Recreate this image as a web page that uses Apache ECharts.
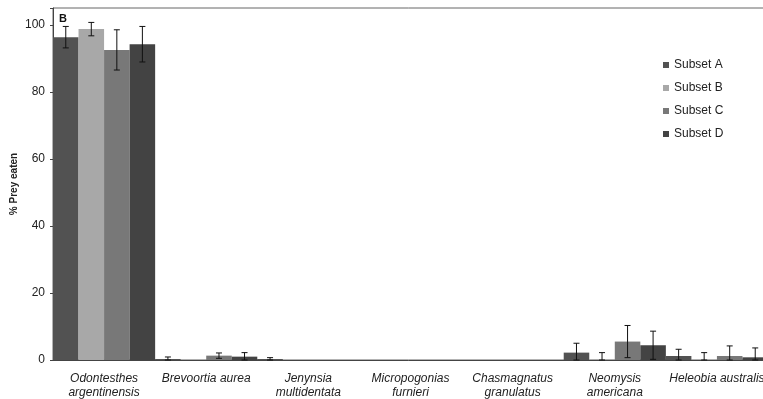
<!DOCTYPE html>
<html><head><meta charset="utf-8">
<script src="https://cdn.jsdelivr.net/npm/echarts@6/dist/echarts.min.js"></script>
<style>html,body{margin:0;padding:0;background:#fff}#c{width:763px;height:399px}</style>
</head><body><div id="c"></div>
<script>
const categories = ['Odontesthes\nargentinensis','Brevoortia aurea','Jenynsia\nmultidentata','Micropogonias\nfurnieri','Chasmagnatus\ngranulatus','Neomysis\namericana','Heleobia australis'];
const subsetNames = ['Subset A','Subset B','Subset C','Subset D'];
const valuesA = [96.3, 0.3, 0.3, 0, 0, 2.2, 1.2];
const valuesB = [98.7, 0.1, 0, 0, 0, 0.2, 0.1];
const valuesC = [92.5, 1.3, 0, 0, 0, 5.5, 1.2];
const valuesD = [94.2, 1.0, 0, 0, 0, 4.4, 0.8];
const errA = [3.2, 0.6, 0.4, 0, 0, 2.8, 2.0];
const errB = [2.0, 0, 0, 0, 0, 2.0, 2.1];
const errC = [6.0, 0.8, 0, 0, 0, 4.8, 3.0];
const errD = [5.3, 1.2, 0, 0, 0, 4.2, 2.8];
const yTicks = [0, 20, 40, 60, 80, 100];

const colors = ['#525252', '#a8a8a8', '#787878', '#434343'];
const values = [valuesA, valuesB, valuesC, valuesD];
const errs = [errA, errB, errC, errD];

const chart = echarts.init(document.getElementById('c'));
const series = [];
values.forEach((v, s) => {
  series.push({
    name: subsetNames[s], type: 'bar', data: v,
    barGap: '0%', barCategoryGap: '0%',
    itemStyle: { color: colors[s] }, silent: true
  });
});
errs.forEach((e, s) => {
  series.push({
    type: 'custom', silent: true, z: 10,
    data: e.map((err, i) => [i, values[s][i], err]),
    renderItem: function (params, api) {
      const err = api.value(2);
      if (!(err > 0)) return null;
      const cat = api.value(0), val = api.value(1);
      const band = api.size([1, 0])[0];
      const off = (s - 1.5) * band / 4;
      const hi = api.coord([cat, val + err]);
      const lo = api.coord([cat, Math.max(0, val - err)]);
      const x = hi[0] + off;
      const cap = 3;
      const st = { stroke: '#111', lineWidth: 1 };
      return { type: 'group', children: [
        { type: 'line', shape: { x1: x, y1: hi[1], x2: x, y2: lo[1] }, style: st },
        { type: 'line', shape: { x1: x - cap, y1: hi[1], x2: x + cap, y2: hi[1] }, style: st },
        { type: 'line', shape: { x1: x - cap, y1: lo[1], x2: x + cap, y2: lo[1] }, style: st }
      ]};
    }
  });
});

chart.setOption({
  animation: false,
  textStyle: { fontFamily: 'Liberation Sans' },
  grid: { left: 53, right: -5, top: 8, bottom: 39, outerBoundsMode: 'none', containLabel: false,
    show: true, borderColor: '#666', borderWidth: 1 },
  legend: {
    data: subsetNames.map((n, i) => ({ name: n, itemStyle: { color: colors[i] } })),
    orient: 'vertical', left: 658, top: 54, itemWidth: 6, itemHeight: 6, itemGap: 11,
    icon: 'rect',
    textStyle: { fontSize: 12, color: '#222', fontFamily: 'Liberation Sans' }
  },
  xAxis: {
    type: 'category', data: categories,
    axisLine: { lineStyle: { color: '#444' } },
    axisTick: { show: false },
    axisLabel: { interval: 0, fontStyle: 'italic', fontSize: 12, color: '#222', lineHeight: 14, margin: 12 }
  },
  yAxis: {
    type: 'value', min: 0, max: 105, interval: 20,
    splitLine: { show: false },
    axisLine: { show: true, lineStyle: { color: '#444' } },
    axisTick: { show: true, length: 3, lineStyle: { color: '#444' } },
    axisLabel: { fontSize: 12, color: '#222', margin: 8,
      formatter: v => yTicks.indexOf(v) >= 0 ? String(v) : '' }
  },
  graphic: [
    { type: 'text', left: 59, top: 13, style: { text: 'B', font: 'bold 11px Liberation Sans', fill: '#111' } },
    { type: 'text', x: 14, y: 184, rotation: Math.PI / 2,
      style: { text: '% Prey eaten', font: 'bold 10px Liberation Sans', fill: '#222', align: 'center', verticalAlign: 'middle' } }
  ],
  series: series
});
</script></body></html>
